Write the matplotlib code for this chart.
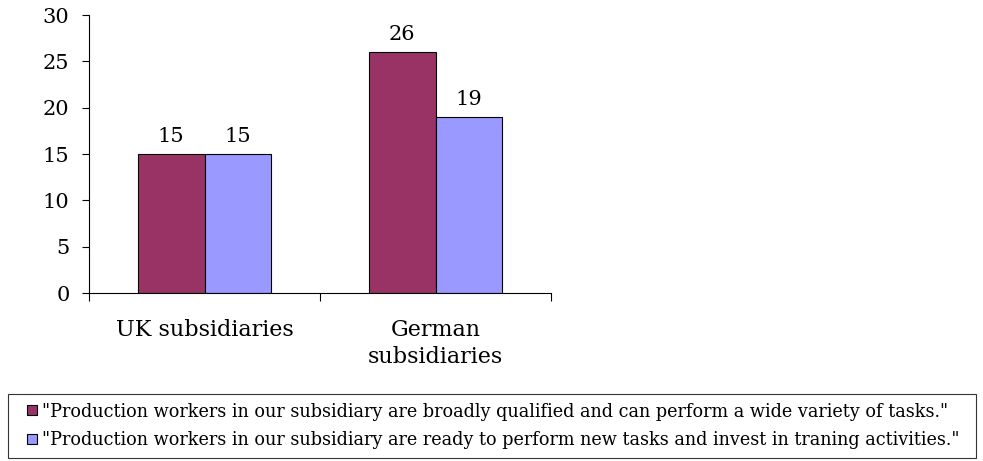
import matplotlib.pyplot as plt
import matplotlib.patches as mpatches
from matplotlib.container import BarContainer
from matplotlib.legend_handler import HandlerPatch
import numpy as np

# data
categories = ["UK subsidiaries", "German\nsubsidiaries"]
broadly_qualified = [15, 26]
ready_new_tasks = [15, 19]
series_labels = [
    '"Production workers in our subsidiary are broadly qualified and can perform a wide variety of tasks."',
    '"Production workers in our subsidiary are ready to perform new tasks and invest in traning activities."',
]

# the original uses a wide Times-like face; DejaVu Serif gets closest in width
plt.rcParams['font.family'] = ['DejaVu Serif', 'Liberation Serif']

fig = plt.figure(figsize=(9.83, 4.61), dpi=100)
ax = fig.add_axes([89/983, 1-293/461, 462/983, 278/461])

x = np.arange(len(categories))
w = 0.29
b1 = ax.bar(x - w/2, broadly_qualified, w, color='#993366', edgecolor='black', linewidth=0.8,
            label=series_labels[0])
b2 = ax.bar(x + w/2, ready_new_tasks, w, color='#9999FF', edgecolor='black', linewidth=0.8,
            label=series_labels[1])
ax.bar_label(b1, padding=6, fontsize=15)
ax.bar_label(b2, padding=6, fontsize=15)

ax.set_xlim(-0.5, 1.5)
ax.set_ylim(0, 30)
ax.set_yticks(range(0, 31, 5))
ax.tick_params(axis='y', labelsize=15, length=5, pad=9)

# boundaries as major ticks, category names as minor
ax.set_xticks([-0.5, 0.5, 1.5])
ax.set_xticklabels([])
ax.set_xticks(x, minor=True)
ax.set_xticklabels(categories, minor=True, fontsize=16, linespacing=1.25)
ax.tick_params(axis='x', which='major', length=6)
ax.tick_params(axis='x', which='minor', length=0, pad=19)

ax.spines['top'].set_visible(False)
ax.spines['right'].set_visible(False)


# small square swatch sitting at the right end of the handle box
def square_swatch(legend, orig_handle, xdescent, ydescent, width, height, fontsize):
    s = 7.2
    return mpatches.Rectangle((-xdescent + width - s, -ydescent + (height - s) / 2), s, s)


def from_first_bar(legend_handle, orig_handle):
    legend_handle.update_from(orig_handle.patches[0])


leg = fig.legend(loc='lower left', bbox_to_anchor=(8/983, 3/461, 968/983, 0.14), mode='expand',
                 fancybox=False, edgecolor='black', fontsize=12.7, handlelength=1.15, handleheight=0.6,
                 handletextpad=0.3, borderaxespad=0, labelspacing=0.6, borderpad=0.5,
                 handler_map={BarContainer: HandlerPatch(patch_func=square_swatch,
                                                         update_func=from_first_bar)})
leg.get_frame().set_linewidth(0.8)

fig.savefig('out.png', dpi=100)
